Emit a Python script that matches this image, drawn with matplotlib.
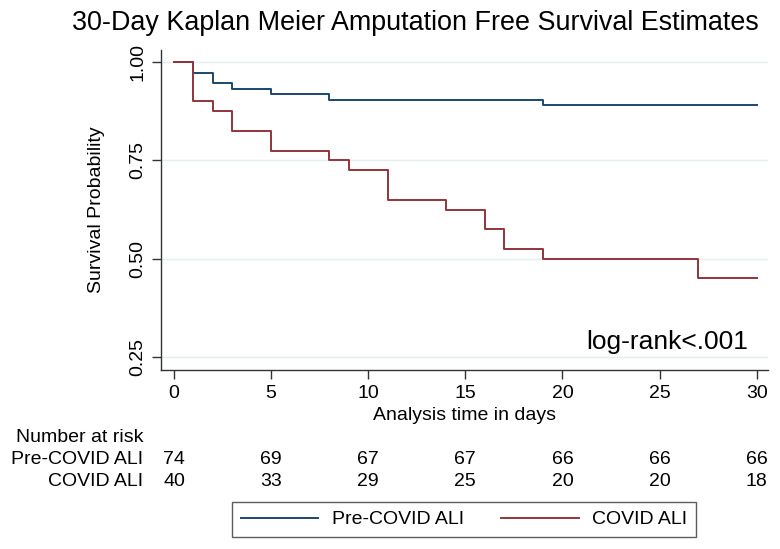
import matplotlib
matplotlib.use('Agg')
import matplotlib.pyplot as plt
import matplotlib.transforms as mtransforms

plt.rcParams['font.family'] = ['Liberation Sans', 'DejaVu Sans']

# Kaplan-Meier step estimates
pre_times = [0, 1, 2, 3, 5, 8, 19, 30]
pre_surv = [1.0, 0.973, 0.946, 0.932, 0.919, 0.905, 0.892, 0.892]
covid_times = [0, 1, 2, 3, 5, 8, 9, 11, 14, 16, 17, 19, 27, 30]
covid_surv = [1.0, 0.90, 0.875, 0.825, 0.775, 0.75, 0.725, 0.65, 0.625,
              0.575, 0.525, 0.50, 0.45, 0.45]

# number at risk table
risk_times = [0, 5, 10, 15, 20, 25, 30]
pre_risk = [74, 69, 67, 67, 66, 66, 66]
covid_risk = [40, 33, 29, 25, 20, 20, 18]

group_names = ['Pre-COVID ALI', 'COVID ALI']
colors = ['#1a476f', '#90353b']

fig = plt.figure(figsize=(7.8, 5.49), dpi=100)
ax = fig.add_axes([161 / 780, 1 - 369.5 / 549, 607 / 780, 319.5 / 549])

ax.step(pre_times, pre_surv, where='post', color=colors[0], lw=1.4, label=group_names[0])
ax.step(covid_times, covid_surv, where='post', color=colors[1], lw=1.4, label=group_names[1])

ax.set_xlim(-0.67, 30.58)
ax.set_ylim(0.218, 1.031)
ax.set_xticks(risk_times)
ax.set_yticks([0.25, 0.50, 0.75, 1.00])
ax.set_yticklabels(['0.25', '0.50', '0.75', '1.00'])
ax.grid(axis='y', color='#e4edef', lw=1)
ax.set_axisbelow(True)

for s in ['top', 'right']:
    ax.spines[s].set_visible(False)
for s in ['left', 'bottom']:
    ax.spines[s].set_color('#333333')
    ax.spines[s].set_linewidth(1)

ax.tick_params(axis='both', direction='out', length=6.5, width=1, color='#333333',
               labelsize=14)
ax.tick_params(axis='x', pad=5)
ax.tick_params(axis='y', pad=4, labelrotation=90)
for lab in ax.get_yticklabels():
    lab.set_va('center')

ax.set_xlabel('Analysis time in days', fontsize=14, labelpad=3)
ax.set_ylabel('Survival Probability', fontsize=14)
ax.yaxis.set_label_coords(-0.093, 0.5)

ax.text(29.56, 0.288, 'log-rank<.001', ha='right', va='center', fontsize=19)

fig.text(0.532, 1 - 23 / 549, '30-Day Kaplan Meier Amputation Free Survival Estimates',
         ha='center', va='center', fontsize=19.4)

# number at risk table under the axis
trans = mtransforms.blended_transform_factory(ax.transData, fig.transFigure)
fig.text(143 / 780, 1 - 437 / 549, 'Number at risk', ha='right', va='center', fontsize=14)
row_y = [1 - 459 / 549, 1 - 481 / 549]
for name, counts, yy in zip(group_names, [pre_risk, covid_risk], row_y):
    fig.text(143 / 780, yy, name, ha='right', va='center', fontsize=14)
    for t, c in zip(risk_times, counts):
        ax.text(t, yy, str(c), transform=trans, ha='center', va='center', fontsize=14)

leg = fig.legend(loc='center', bbox_to_anchor=(464 / 780, 1 - 519.5 / 549), ncol=2,
                 fontsize=14, frameon=True, fancybox=False, edgecolor='#333333',
                 handlelength=4, handletextpad=0.7, columnspacing=1.9,
                 borderpad=0.45)
leg.get_frame().set_linewidth(1)

fig.savefig('out.png', dpi=100)
